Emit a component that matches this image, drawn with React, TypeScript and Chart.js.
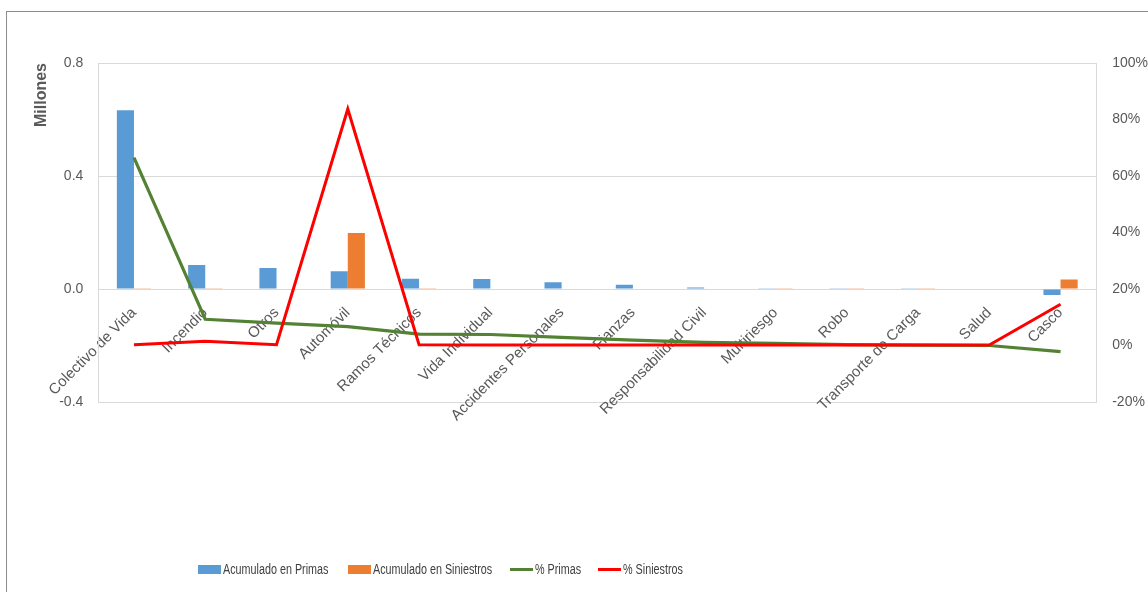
import React, { useEffect, useRef } from "react";
import { Chart, registerables } from "chart.js";

Chart.register(...registerables);

const categories = [
  "Colectivo de Vida",
  "Incendio",
  "Otros",
  "Automóvil",
  "Ramos Técnicos",
  "Vida Individual",
  "Accidentes Personales",
  "Fianzas",
  "Responsabilidad Civil",
  "Multiriesgo",
  "Robo",
  "Transporte de Carga",
  "Salud",
  "Casco",
];

// Millones
const acumuladoPrimas = [0.633, 0.085, 0.074, 0.063, 0.036, 0.035, 0.024, 0.015, 0.005, 0.003, 0.001, 0.001, 0.0, -0.021];
const acumuladoSiniestros = [0.001, 0.003, 0.0, 0.198, 0.001, 0.0, 0.0, 0.0, 0.0, 0.001, 0.001, 0.001, 0.0, 0.034];
// fractions (percent axis)
const pctPrimas = [0.665, 0.093, 0.079, 0.067, 0.04, 0.039, 0.029, 0.019, 0.011, 0.008, 0.003, 0.001, 0.0, -0.022];
const pctSiniestros = [0.003, 0.015, 0.003, 0.837, 0.003, 0.002, 0.002, 0.002, 0.002, 0.002, 0.002, 0.002, 0.002, 0.146];

const leftTicks = [-0.4, 0.0, 0.4, 0.8];
const rightTicks = [-0.2, 0, 0.2, 0.4, 0.6, 0.8, 1.0];

const seriesLabels = ["Acumulado en Primas", "Acumulado en Siniestros", "% Primas", "% Siniestros"];
const seriesColors = ["#5b9bd5", "#ed7d31", "#548235", "#ff0000"];
const seriesKinds = ["bar", "bar", "line", "line"];

const FONT = "'Liberation Sans', Arial, sans-serif";
const TICK_COLOR = "#595959";
const CANVAS_W = 1167;

export default function App() {
  const canvasRef = useRef<HTMLCanvasElement | null>(null);

  useEffect(() => {
    const canvas = canvasRef.current;
    if (!canvas) return;
    const chart = new Chart(canvas, {
      type: "bar",
      data: {
        labels: categories,
        datasets: [
          {
            type: "bar",
            label: seriesLabels[0],
            data: acumuladoPrimas,
            backgroundColor: seriesColors[0],
            yAxisID: "y",
            order: 2,
            categoryPercentage: 0.48,
            barPercentage: 1.0,
          },
          {
            type: "bar",
            label: seriesLabels[1],
            data: acumuladoSiniestros,
            backgroundColor: seriesColors[1],
            yAxisID: "y",
            order: 2,
            categoryPercentage: 0.48,
            barPercentage: 1.0,
          },
          {
            type: "line",
            label: seriesLabels[2],
            data: pctPrimas,
            borderColor: seriesColors[2],
            backgroundColor: seriesColors[2],
            borderWidth: 3.2,
            pointRadius: 0,
            tension: 0,
            yAxisID: "y1",
            order: 1,
          },
          {
            type: "line",
            label: seriesLabels[3],
            data: pctSiniestros,
            borderColor: seriesColors[3],
            backgroundColor: seriesColors[3],
            borderWidth: 3,
            pointRadius: 0,
            tension: 0,
            yAxisID: "y1",
            order: 0,
          },
        ],
      },
      options: {
        animation: false,
        responsive: false,
        maintainAspectRatio: false,
        layout: { padding: { left: 32, right: 3, top: 63, bottom: 190 } },
        plugins: {
          legend: { display: false },
          tooltip: { enabled: false },
        },
        scales: {
          x: {
            type: "category",
            position: { y: 0 } as any,
            offset: true,
            grid: { display: false, drawTicks: false },
            border: { display: false },
            ticks: {
              autoSkip: false,
              minRotation: 45,
              maxRotation: 45,
              padding: 15,
              color: TICK_COLOR,
              font: { family: FONT, size: 15 },
            },
          },
          y: {
            position: "left",
            min: -0.4,
            max: 0.8,
            afterBuildTicks: (scale: any) => {
              scale.ticks = leftTicks.map((v) => ({ value: v }));
            },
            grid: { color: "#d9d9d9", lineWidth: 1, drawTicks: false },
            border: { display: true, color: "#d9d9d9", width: 1 },
            ticks: {
              padding: 15,
              color: TICK_COLOR,
              font: { family: FONT, size: 14 },
              callback: (v: any) => Number(v).toFixed(1),
            },
            title: {
              display: true,
              text: "Millones",
              align: "end",
              color: TICK_COLOR,
              font: { family: FONT, size: 16, weight: "bold" },
              padding: { top: 0, bottom: -7 },
            },
          },
          y1: {
            position: "right",
            min: -0.2,
            max: 1.0,
            afterBuildTicks: (scale: any) => {
              scale.ticks = rightTicks.map((v) => ({ value: v }));
            },
            grid: { display: false, drawTicks: false },
            border: { display: true, color: "#d9d9d9", width: 1 },
            ticks: {
              padding: 16,
              color: TICK_COLOR,
              font: { family: FONT, size: 14 },
              callback: (v: any) => Math.round(Number(v) * 100) + "%",
            },
          },
        },
      } as any,
    });
    return () => chart.destroy();
  }, []);

  const legendLefts = [198, 348, 510, 598];

  return (
    <div style={{ position: "fixed", left: 0, top: 0, width: 1148, height: 592, overflow: "hidden", background: "#fff" }}>
      <div
        style={{
          position: "absolute",
          left: 6,
          top: 11,
          width: 1300,
          height: 700,
          borderLeft: "1.5px solid #8c8c8c",
          borderTop: "1.5px solid #8c8c8c",
        }}
      />
      <canvas
        ref={canvasRef}
        width={CANVAS_W}
        height={592}
        style={{ position: "absolute", left: 0, top: 0, width: CANVAS_W, height: 592 }}
      />
      {seriesLabels.map((label, i) => (
        <div
          key={label}
          style={{
            position: "absolute",
            left: legendLefts[i],
            top: 560,
            height: 18,
            display: "flex",
            alignItems: "center",
            fontFamily: FONT,
            fontSize: 14,
            color: "#404040",
            whiteSpace: "nowrap",
          }}
        >
          <span
            style={{
              display: "inline-block",
              width: 23,
              height: seriesKinds[i] === "bar" ? 9 : 3,
              background: seriesColors[i],
              marginRight: 2,
              flex: "none",
            }}
          />
          <span style={{ display: "inline-block", transform: "scaleX(0.77)", transformOrigin: "left center" }}>{label}</span>
        </div>
      ))}
    </div>
  );
}
